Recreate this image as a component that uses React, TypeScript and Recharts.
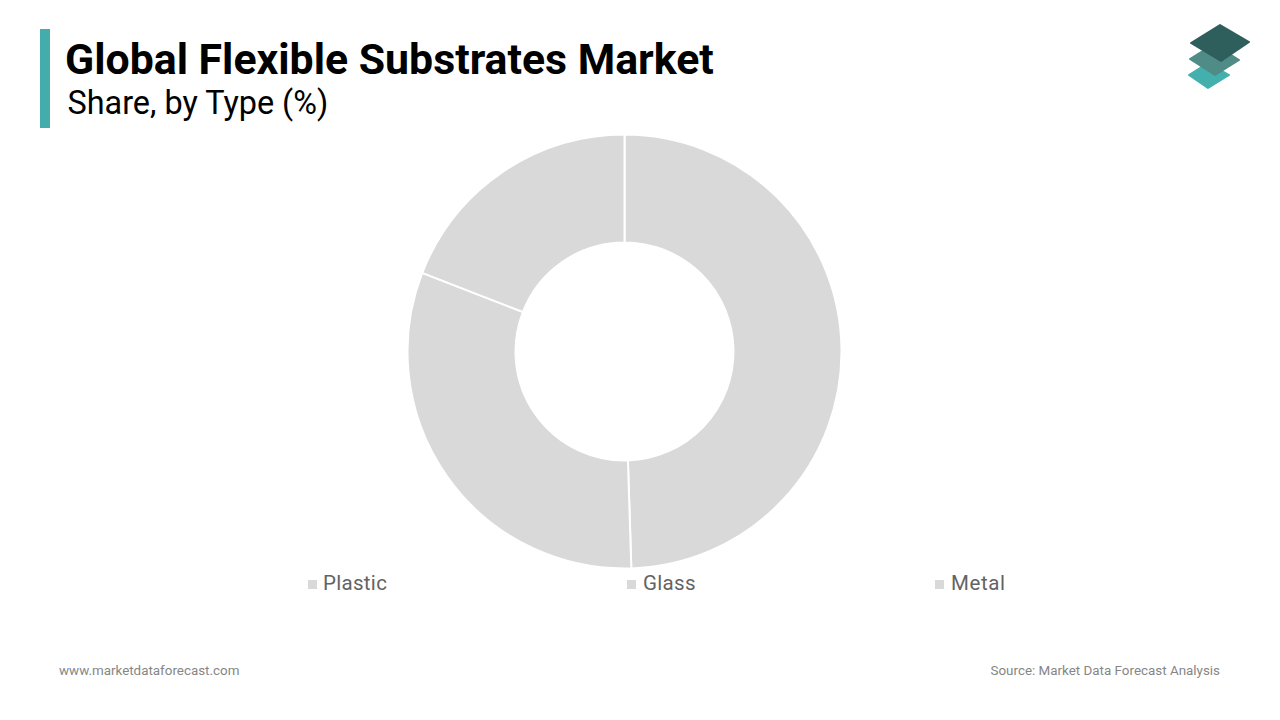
import React from "react";
import { PieChart, Pie, Cell, Legend } from "recharts";

const categories = ["Plastic", "Glass", "Metal"];
const shares = [49.5, 31.4, 19.1];
const sliceColors = ["#d9d9d9", "#d9d9d9", "#d9d9d9"];
const legendLefts = [308, 627, 935];
const titleText = "Global Flexible Substrates Market";
const subtitleText = "Share, by Type (%)";
const footerLeft = "www.marketdataforecast.com";
const footerRight = "Source: Market Data Forecast Analysis";

const tableData = categories.map((name, i) => ({ name, value: shares[i] }));
const font = "Roboto, sans-serif";

function LegendRow() {
  return (
    <div style={{ position: "relative", width: 1280, height: 30 }}>
      {categories.map((c, i) => (
        <div key={c} style={{ position: "absolute", left: legendLefts[i], top: 0, height: 30, display: "flex", alignItems: "center" }}>
          <span style={{ display: "inline-block", width: 9, height: 9, background: sliceColors[i], marginRight: i === 0 ? 6 : 7, marginTop: 3 }} />
          <span style={{ fontFamily: font, fontSize: 20.5, color: "#636363", letterSpacing: i === 2 ? 0.6 : 0.3 }}>{c}</span>
        </div>
      ))}
    </div>
  );
}

function Logo() {
  return (
    <svg width={70} height={74} viewBox="0 0 70 74" style={{ position: "absolute", left: 1185, top: 20 }}>
      <polygon points="4,55 23,43 44,55 23,68" fill="#44b0ae" stroke="#44b0ae" strokeWidth={2} strokeLinejoin="round" />
      <polygon points="5,39 29,24 54,40 30,55" fill="#4f8c88" stroke="#4f8c88" strokeWidth={2} strokeLinejoin="round" />
      <polygon points="6,23 35,5 64,22 36,41" fill="#2f5f5c" stroke="#2f5f5c" strokeWidth={2} strokeLinejoin="round" />
    </svg>
  );
}

export default function App() {
  return (
    <div style={{ position: "absolute", left: 0, top: 0, width: 1280, height: 720, background: "#fff", overflow: "hidden" }}>
      <PieChart width={1280} height={720} margin={{ top: 0, right: 0, bottom: 0, left: 0 }} style={{ position: "absolute", left: 0, top: 0 }}>
        <Pie
          data={tableData}
          dataKey="value"
          nameKey="name"
          cx={624.5}
          cy={351.5}
          outerRadius={217}
          innerRadius={109}
          startAngle={90}
          endAngle={-270}
          stroke="#ffffff"
          strokeWidth={2}
          isAnimationActive={false}
        >
          {tableData.map((d, i) => (
            <Cell key={d.name} fill={sliceColors[i]} />
          ))}
        </Pie>
        <Legend
          content={<LegendRow />}
          layout="horizontal"
          verticalAlign="bottom"
          wrapperStyle={{ position: "absolute", left: 0, top: 568, bottom: "auto", width: 1280, margin: 0 }}
        />
      </PieChart>
      <div style={{ position: "absolute", left: 40, top: 29, width: 10, height: 99, background: "#44adac" }} />
      <div style={{ position: "absolute", left: 65, top: 34, fontFamily: font, fontWeight: 700, fontSize: 42.8, lineHeight: "50px", color: "#000", whiteSpace: "nowrap" }}>{titleText}</div>
      <div style={{ position: "absolute", left: 67.5, top: 82, fontFamily: font, fontWeight: 400, fontSize: 32.4, lineHeight: "42px", color: "#000", whiteSpace: "nowrap" }}>{subtitleText}</div>
      <Logo />
      <div style={{ position: "absolute", left: 59, top: 662, fontFamily: font, fontSize: 13.4, lineHeight: "18px", color: "#868686", whiteSpace: "nowrap" }}>{footerLeft}</div>
      <div style={{ position: "absolute", right: 60, top: 662, fontFamily: font, fontSize: 13.4, lineHeight: "18px", color: "#868686", whiteSpace: "nowrap" }}>{footerRight}</div>
    </div>
  );
}
